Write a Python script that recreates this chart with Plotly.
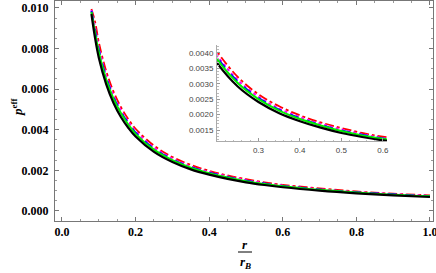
import plotly.graph_objects as go

r_vals = [0.08, 0.09, 0.10, 0.12, 0.14, 0.16, 0.18, 0.20, 0.25, 0.30, 0.35, 0.40,
          0.45, 0.50, 0.55, 0.60, 0.70, 0.80, 0.90, 1.00]
p_black = [0.00970, 0.00850, 0.00755, 0.00625, 0.00532, 0.00463, 0.00410, 0.00367,
           0.00291, 0.00241, 0.00205, 0.00179, 0.00158, 0.00141, 0.00128, 0.00117,
           0.00100, 0.00087, 0.00077, 0.00069]
p_green = [0.00980, 0.00876, 0.00783, 0.00649, 0.00553, 0.00482, 0.00426, 0.00380,
           0.00302, 0.00250, 0.00213, 0.00186, 0.00165, 0.00147, 0.00133, 0.00122,
           0.00104, 0.00091, 0.00080, 0.00072]
p_blue = [0.00985, 0.00888, 0.00794, 0.00658, 0.00561, 0.00489, 0.00433, 0.00386,
          0.00307, 0.00254, 0.00216, 0.00189, 0.00167, 0.00149, 0.00135, 0.00123,
          0.00106, 0.00092, 0.00082, 0.00073]
p_magenta = [0.00990, 0.00901, 0.00806, 0.00668, 0.00569, 0.00496, 0.00439, 0.00392,
             0.00312, 0.00258, 0.00219, 0.00192, 0.00170, 0.00152, 0.00137, 0.00125,
             0.00107, 0.00093, 0.00083, 0.00074]
p_red = [0.00995, 0.00931, 0.00832, 0.00690, 0.00588, 0.00512, 0.00453, 0.00405,
         0.00322, 0.00266, 0.00227, 0.00198, 0.00175, 0.00157, 0.00141, 0.00129,
         0.00111, 0.00096, 0.00085, 0.00077]

x_ticks = [0.0, 0.2, 0.4, 0.6, 0.8, 1.0]
y_ticks = [0.000, 0.002, 0.004, 0.006, 0.008, 0.010]
inset_x_ticks = [0.3, 0.4, 0.5, 0.6]
inset_y_ticks = [0.0015, 0.0020, 0.0025, 0.0030, 0.0035, 0.0040]

series = [
    (p_black, "black", "solid", 2.2),
    (p_green, "#00ee00", "solid", 2.0),
    (p_blue, "#0000ff", "dash", 2.0),
    (p_magenta, "#ff00ff", "dot", 2.0),
    (p_red, "#ff0000", "dashdot", 1.8),
]

fig = go.Figure()
for axes in [("x", "y"), ("x2", "y2")]:
    for vals, col, dash, w in reversed(series):
        fig.add_trace(go.Scatter(
            x=r_vals, y=vals, mode="lines", xaxis=axes[0], yaxis=axes[1],
            line=dict(color=col, dash=dash, width=w, shape="spline", smoothing=1.0),
            showlegend=False, hoverinfo="skip"))

L, R, T, B = 55, 3, 1, 52
W, H = 436, 273
pw, ph = W - L - R, H - T - B


def px(x):
    return (x - L) / pw


def py(y):
    return (H - B - y) / ph


main_font = dict(family="Liberation Serif", size=12, color="black", weight="bold")
inset_font = dict(family="Liberation Sans", size=8, color="#444444")

fig.update_layout(
    width=W, height=H, margin=dict(l=L, r=R, t=T, b=B, autoexpand=False),
    paper_bgcolor="white", plot_bgcolor="white",
    xaxis=dict(range=[-0.019, 1.0082], tickvals=x_ticks,
               ticktext=[f"{v:.1f}" for v in x_ticks],
               ticks="inside", ticklen=4, tickcolor="#777", tickwidth=1,
               minor=dict(dtick=0.05, tick0=0, ticks="inside", ticklen=2, tickcolor="#999"),
               showline=True, linecolor="#777", linewidth=1, mirror="allticks",
               showgrid=False, zeroline=False, tickfont=main_font,
               automargin=False, ticklabeloverflow="allow"),
    yaxis=dict(range=[-0.000493, 0.01034], tickvals=y_ticks,
               ticktext=[f"{v:.3f}" for v in y_ticks],
               ticks="inside", ticklen=4, tickcolor="#777", tickwidth=1,
               minor=dict(dtick=0.0005, tick0=0, ticks="inside", ticklen=2, tickcolor="#999"),
               showline=True, linecolor="#777", linewidth=1, mirror="allticks",
               showgrid=False, zeroline=False, tickfont=main_font,
               automargin=False, ticklabeloverflow="allow", ticklabelstandoff=3),
    xaxis2=dict(domain=[px(217), px(387)], anchor="y2", range=[0.2, 0.61],
                tickvals=inset_x_ticks, ticktext=[f"{v:.1f}" for v in inset_x_ticks],
                ticks="inside", ticklen=3, tickcolor="#999",
                minor=dict(dtick=0.02, tick0=0.2, ticks="inside", ticklen=1.5, tickcolor="#bbb"),
                showline=True, linecolor="#aaa", linewidth=1,
                showgrid=False, zeroline=False, tickfont=inset_font, ticklabelstandoff=1,
                automargin=False, ticklabeloverflow="allow"),
    yaxis2=dict(domain=[py(141), py(45)], anchor="x2", range=[0.00115, 0.00425],
                tickvals=inset_y_ticks, ticktext=[f"{v:.4f}" for v in inset_y_ticks],
                ticks="inside", ticklen=3, tickcolor="#999",
                minor=dict(dtick=0.0001, tick0=0.0015, ticks="inside", ticklen=1.5, tickcolor="#bbb"),
                showline=True, linecolor="#aaa", linewidth=1,
                showgrid=False, zeroline=False, tickfont=inset_font, ticklabelstandoff=1,
                automargin=False, ticklabeloverflow="allow"),
)

title_font = dict(family="Liberation Serif", size=13, color="black", weight="bold")
fig.add_annotation(text="<i>r</i>", xref="paper", yref="paper", x=px(245), y=py(244),
                   showarrow=False, font=title_font, xanchor="center", yanchor="middle")
fig.add_annotation(text="<i>r</i><sub><i>B</i></sub>", xref="paper", yref="paper",
                   x=px(245), y=py(262), showarrow=False, font=title_font,
                   xanchor="center", yanchor="middle")
fig.add_shape(type="line", xref="paper", yref="paper", x0=px(238), x1=px(252),
              y0=py(252), y1=py(252), line=dict(color="black", width=1))
fig.add_annotation(text="<i>p</i><sup>eff</sup>", xref="paper", yref="paper",
                   x=px(17), y=py(107), showarrow=False, font=title_font, textangle=-90,
                   xanchor="center", yanchor="middle")

fig.write_html("out.html", config={"displayModeBar": False},
               post_script="document.body.style.margin='0';document.body.style.padding='0';")
